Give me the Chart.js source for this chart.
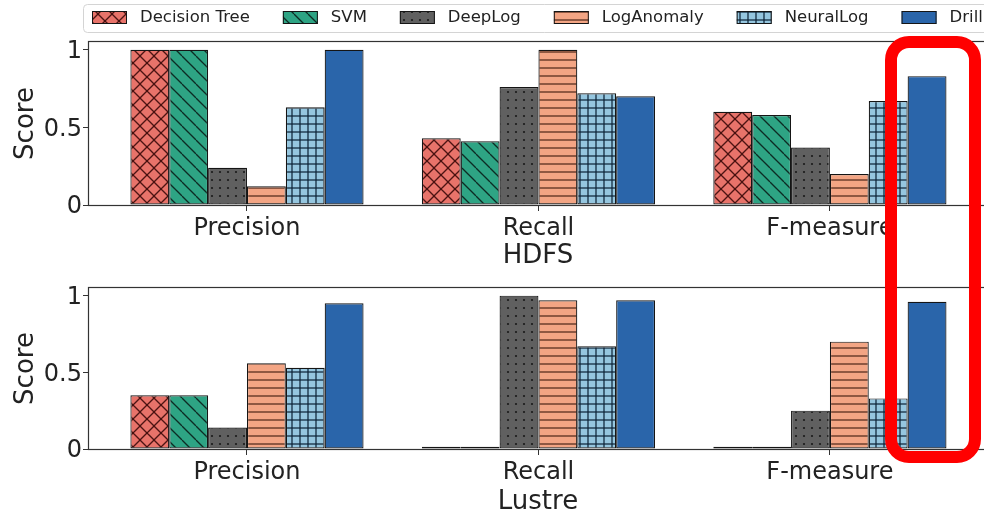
<!DOCTYPE html>
<html>
<head>
<meta charset="utf-8">
<script src="https://cdn.jsdelivr.net/npm/chart.js@4.4.1/dist/chart.umd.min.js"></script>
<style>
  html, body { margin: 0; padding: 0; background: #ffffff; }
  #wrap { position: relative; width: 984px; height: 515px; overflow: hidden; background: #ffffff; }
  .pane { position: absolute; left: 0; }
  #redbox { position: absolute; left: 885px; top: 36px; width: 96px; height: 427px; box-sizing: border-box;
            border: 12px solid #ff0000; border-radius: 24px; pointer-events: none; }
</style>
</head>
<body>
<div id="wrap">
  <canvas id="hdfs" class="pane" width="1000" height="272" style="top:0px"></canvas>
  <canvas id="lustre" class="pane" width="1000" height="243" style="top:272px"></canvas>
  <div id="redbox"></div>
</div>
<script>
// ---------------- data ----------------
const metrics = ['Precision', 'Recall', 'F-measure'];
const methods = ['Decision Tree', 'SVM', 'DeepLog', 'LogAnomaly', 'NeuralLog', 'Drill'];
const yTickValues = [0, 0.5, 1];

// HDFS scores: [Precision, Recall, F-measure]
const hdfsDecisionTree = [1.00, 0.43, 0.60];
const hdfsSVM          = [1.00, 0.41, 0.58];
const hdfsDeepLog      = [0.24, 0.76, 0.37];
const hdfsLogAnomaly   = [0.12, 1.00, 0.20];
const hdfsNeuralLog    = [0.63, 0.72, 0.67];
const hdfsDrill        = [1.00, 0.70, 0.83];

// Lustre scores: [Precision, Recall, F-measure]
const lustreDecisionTree = [0.35, 0.015, 0.015];
const lustreSVM          = [0.35, 0.015, 0.015];
const lustreDeepLog      = [0.14, 1.00, 0.25];
const lustreLogAnomaly   = [0.56, 0.97, 0.70];
const lustreNeuralLog    = [0.53, 0.67, 0.33];
const lustreDrill        = [0.95, 0.97, 0.96];

// ---------------- styling ----------------
const FONT = '"DejaVu Sans", "Liberation Sans", sans-serif';
const TEXT = '#222222';
const AXIS = '#333333';
const EDGE = '#151515';

function makePattern(fill, kind, hatch) {
  const s = (kind === 'cross' || kind === 'back') ? 14 : 8;
  const c = document.createElement('canvas');
  c.width = s; c.height = s;
  const g = c.getContext('2d');
  g.fillStyle = fill;
  g.fillRect(0, 0, s, s);
  g.strokeStyle = hatch;
  g.fillStyle = hatch;
  g.lineWidth = 1.3;
  const line = (x1, y1, x2, y2) => { g.beginPath(); g.moveTo(x1, y1); g.lineTo(x2, y2); g.stroke(); };
  if (kind === 'cross') {
    for (const o of [-s, 0, s]) { line(o, 0, o + s, s); line(o, s, o + s, 0); }
  } else if (kind === 'back') {
    for (const o of [-s, 0, s]) { line(o, 0, o + s, s); }
  } else if (kind === 'dots') {
    g.beginPath(); g.arc(4, 4, 1.1, 0, Math.PI * 2); g.fill();
  } else if (kind === 'hlines') {
    line(0, 4, s, 4);
  } else if (kind === 'grid') {
    line(0, 4, s, 4); line(4, 0, 4, s);
  }
  return g.createPattern(c, 'repeat');
}

const methodFills = [
  makePattern('#E8736A', 'cross', 'rgba(60,10,10,0.9)'),
  makePattern('#2EA484', 'back', 'rgba(10,30,25,0.9)'),
  makePattern('#606060', 'dots', '#1a1a1a'),
  makePattern('#F3A584', 'hlines', 'rgba(80,40,25,0.95)'),
  makePattern('#95C6DF', 'grid', 'rgba(12,35,55,0.95)'),
  '#2A65AA'
];

function buildDatasets(seriesList) {
  return methods.map((name, i) => ({
    label: name,
    data: seriesList[i].map((v, j) => ({ x: j, y: v })),
    backgroundColor: methodFills[i],
    borderColor: EDGE,
    borderWidth: 1.2,
    borderSkipped: false,
    categoryPercentage: 0.8,
    barPercentage: 1.0
  }));
}

const framePlugin = {
  id: 'axesFrame',
  afterDatasetsDraw(chart) {
    const { left, top, right, bottom } = chart.chartArea;
    const ctx = chart.ctx;
    ctx.save();
    ctx.strokeStyle = AXIS;
    ctx.lineWidth = 1.2;
    ctx.strokeRect(left - 0.5, top - 0.5, right - left + 1, bottom - top + 1);
    ctx.restore();
  }
};

const boxLegendPlugin = {
  id: 'boxLegend',
  afterDraw(chart) {
    const ctx = chart.ctx;
    ctx.save();
    ctx.beginPath();
    ctx.roundRect(83.5, 4.5, 1000, 28, 4);
    ctx.fillStyle = 'rgba(255,255,255,0.85)';
    ctx.fill();
    ctx.strokeStyle = '#d4d4d4';
    ctx.lineWidth = 1;
    ctx.stroke();
    ctx.font = '16.5px ' + FONT;
    ctx.textBaseline = 'middle';
    ctx.textAlign = 'left';
    let x = 92;
    chart.data.datasets.forEach(ds => {
      ctx.fillStyle = ds.backgroundColor;
      ctx.fillRect(x, 11, 35, 13);
      ctx.strokeStyle = EDGE;
      ctx.lineWidth = 1;
      ctx.strokeRect(x + 0.5, 11.5, 34, 12);
      ctx.fillStyle = TEXT;
      ctx.fillText(ds.label, x + 48, 18);
      x += 48 + ctx.measureText(ds.label).width + 33;
    });
    ctx.restore();
  }
};

function buildScales(datasetName, xAxisHeight, titlePadBottom) {
  return {
    x: {
      type: 'linear',
      min: -0.542,
      max: 2.539,
      offset: false,
      afterBuildTicks: s => { s.ticks = metrics.map((_, i) => ({ value: i })); },
      ticks: {
        callback: v => metrics[v] ?? '',
        font: { family: FONT, size: 24 },
        color: TEXT,
        padding: 3,
        maxRotation: 0,
        autoSkip: false
      },
      grid: { display: true, drawOnChartArea: false, drawTicks: true, tickLength: 6, color: AXIS, offset: false },
      border: { display: false },
      title: { display: true, text: datasetName, font: { family: FONT, size: 26, lineHeight: 1.0 }, color: TEXT,
               padding: { top: 0, bottom: titlePadBottom } },
      afterFit: s => { s.height = xAxisHeight; }
    },
    y: {
      min: 0,
      max: 1.05,
      afterBuildTicks: s => { s.ticks = yTickValues.map(v => ({ value: v })); },
      ticks: {
        callback: v => String(v),
        font: { family: FONT, size: 24 },
        color: TEXT,
        padding: 1,
        labelOffset: 2
      },
      grid: { display: true, drawOnChartArea: false, drawTicks: true, tickLength: 6, color: AXIS },
      border: { display: false },
      title: { display: true, text: 'Score', font: { family: FONT, size: 26 }, color: TEXT, padding: { top: 11, bottom: 0 } },
      afterFit: s => { s.width = 89; }
    }
  };
}

function makeChart(id, seriesList, datasetName, padTop, xAxisHeight, titlePadBottom, extraPlugins) {
  return new Chart(document.getElementById(id), {
    type: 'bar',
    data: { datasets: buildDatasets(seriesList) },
    options: {
      responsive: false,
      animation: false,
      devicePixelRatio: 1,
      layout: { padding: { top: padTop, right: 13, bottom: 0, left: 0 } },
      plugins: { legend: { display: false }, tooltip: { enabled: false } },
      scales: buildScales(datasetName, xAxisHeight, titlePadBottom)
    },
    plugins: [framePlugin].concat(extraPlugins)
  });
}

makeChart('hdfs',
  [hdfsDecisionTree, hdfsSVM, hdfsDeepLog, hdfsLogAnomaly, hdfsNeuralLog, hdfsDrill],
  'HDFS', 42, 67, 3, [boxLegendPlugin]);

makeChart('lustre',
  [lustreDecisionTree, lustreSVM, lustreDeepLog, lustreLogAnomaly, lustreNeuralLog, lustreDrill],
  'Lustre', 16, 66, 0, []);
</script>
</body>
</html>
